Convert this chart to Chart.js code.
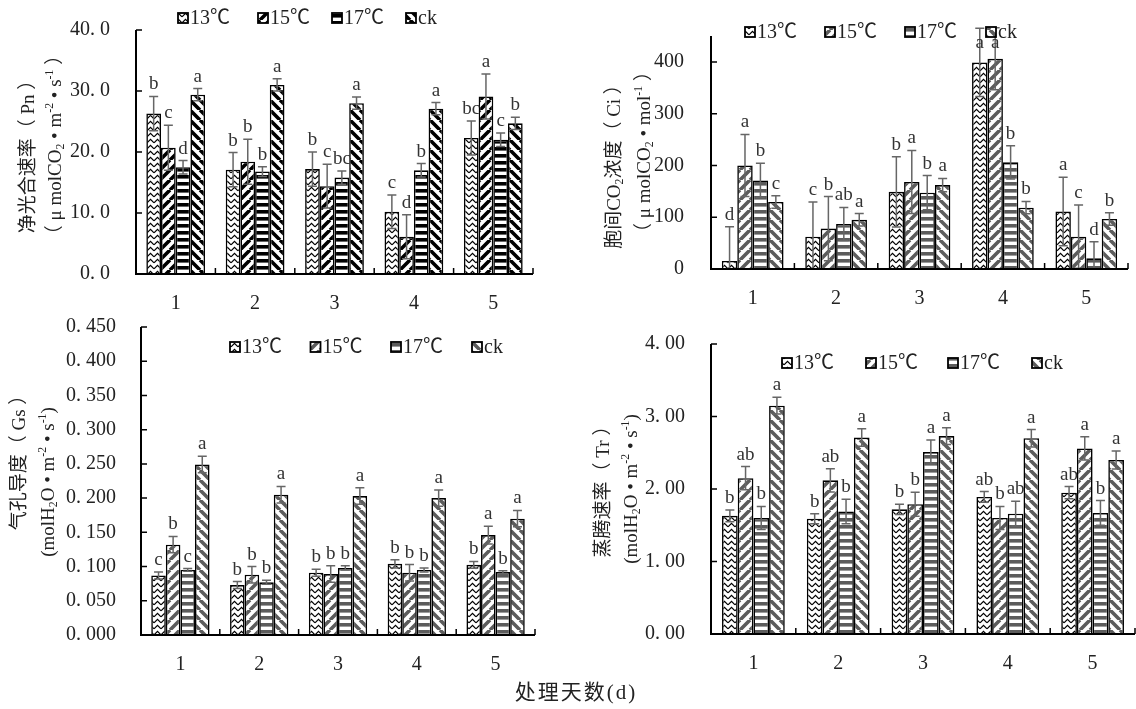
<!DOCTYPE html>
<html><head><meta charset="utf-8">
<script src="https://cdn.jsdelivr.net/npm/chart.js@4.4.1/dist/chart.umd.min.js"></script>
<style>
html,body{margin:0;padding:0;background:#fff;}
#wrap{position:relative;width:1136px;height:709px;overflow:hidden;background:#fff;}
canvas{position:absolute;left:0;top:0;}
</style></head><body>
<div id="wrap">
<canvas id="c1" width="1136" height="709"></canvas>
<canvas id="c2" width="1136" height="709"></canvas>
<canvas id="c3" width="1136" height="709"></canvas>
<canvas id="c4" width="1136" height="709"></canvas>
</div>
<script>
// ---------- data ----------
const days = ['1','2','3','4','5'];
const seriesNames = ['13℃','15℃','17℃','ck'];

// Pn
const pn13 = [26.3, 17.1, 17.2, 10.2, 22.3];
const pn15 = [20.7, 18.4, 14.4, 6.1, 29.1];
const pn17 = [17.5, 16.8, 15.8, 17.0, 22.0];
const pnCk = [29.4, 31.0, 28.0, 27.1, 24.7];
const pnErr13 = [2.8, 2.8, 2.8, 2.75, 2.8];
const pnErr15 = [3.7, 3.7, 3.6, 3.6, 3.7];
const pnErr17 = [1.1, 0.8, 1.1, 1.1, 1.1];
const pnErrCk = [1.0, 1.0, 1.0, 1.0, 1.0];
const pnLet13 = ['b','b','b','c','bc'];
const pnLet15 = ['c','b','c','d','a'];
const pnLet17 = ['d','b','bc','b','c'];
const pnLetCk = ['a','a','a','a','b'];
const pnTicks = [0, 10, 20, 30, 40];

// Ci
const ci13 = [15.5, 62.5, 149, 399, 111];
const ci15 = [200, 78, 168, 406, 62.5];
const ci17 = [171, 87, 147.5, 206, 20.7];
const ciCk = [129.5, 95, 162, 118.5, 96.6];
const ciErr13 = [66, 67, 68, 66, 66];
const ciErr15 = [60, 62, 61, 60, 61];
const ciErr17 = [33, 32, 33, 32, 32];
const ciErrCk = [12, 12, 13, 12, 12];
const ciLet13 = ['d','c','b','a','a'];
const ciLet15 = ['a','b','a','a','c'];
const ciLet17 = ['b','ab','b','b','d'];
const ciLetCk = ['c','a','a','b','b'];
const ciTicks = [0, 100, 200, 300, 400];

// Gs
const gs13 = [0.087, 0.073, 0.091, 0.104, 0.1025];
const gs15 = [0.132, 0.088, 0.089, 0.091, 0.146];
const gs17 = [0.095, 0.077, 0.098, 0.095, 0.092];
const gsCk = [0.249, 0.205, 0.203, 0.200, 0.170];
const gsErr13 = [0.005, 0.005, 0.005, 0.006, 0.005];
const gsErr15 = [0.012, 0.012, 0.012, 0.012, 0.013];
const gsErr17 = [0.002, 0.003, 0.003, 0.003, 0.002];
const gsErrCk = [0.012, 0.012, 0.012, 0.012, 0.012];
const gsLet13 = ['c','b','b','b','b'];
const gsLet15 = ['b','b','b','b','a'];
const gsLet17 = ['c','b','b','b','b'];
const gsLetCk = ['a','a','a','a','a'];
const gsTicks = [0, 0.05, 0.1, 0.15, 0.2, 0.25, 0.3, 0.35, 0.4, 0.45];

// Tr
const tr13 = [1.63, 1.59, 1.72, 1.89, 1.95];
const tr15 = [2.15, 2.12, 1.79, 1.60, 2.56];
const tr17 = [1.60, 1.69, 2.51, 1.66, 1.67];
const trCk = [3.15, 2.71, 2.73, 2.70, 2.40];
const trErr13 = [0.08, 0.07, 0.07, 0.074, 0.083];
const trErr15 = [0.16, 0.16, 0.165, 0.16, 0.16];
const trErr17 = [0.16, 0.17, 0.166, 0.17, 0.17];
const trErrCk = [0.115, 0.12, 0.115, 0.12, 0.124];
const trLet13 = ['b','b','b','ab','ab'];
const trLet15 = ['ab','ab','b','b','a'];
const trLet17 = ['b','b','a','ab','b'];
const trLetCk = ['a','a','a','a','a'];
const trTicks = [0, 1, 2, 3, 4];

const xTitle = '处理天数(d)';

// ---------- layout / style ----------
const FONT = '"Liberation Serif","Noto Sans CJK SC",serif';
const W = 1136, H = 709;
const kinds = ['zig','up','hor','down'];

const panels = [
  {id:'c1', data:[pn13,pn15,pn17,pnCk], err:[pnErr13,pnErr15,pnErr17,pnErrCk], lets:[pnLet13,pnLet15,pnLet17,pnLetCk],
   min:0, max:40, ticks:pnTicks, dec:1, area:{l:136,r:533,t:17,b:274}, col:'#000', tpad:18,
   leg:{x:178,y:18,dx:[0,80,154,228]},
   titles:[{t:'净光合速率（ Pn ）',x:27,y:152},{t:'（ μ molCO_{2} • m^{-2} • s^{-1} ）',x:54,y:145}]},
  {id:'c2', data:[ci13,ci15,ci17,ciCk], err:[ciErr13,ciErr15,ciErr17,ciErrCk], lets:[ciLet13,ciLet15,ciLet17,ciLetCk],
   min:0, max:450, ticks:ciTicks, dec:0, area:{l:711,r:1128,t:36,b:269}, col:'#5c5c5c', tpad:19,
   leg:{x:745,y:32,dx:[0,80,160,241]},
   titles:[{t:'胞间CO_{2}浓度（ Ci ）',x:613,y:162},{t:'（ μ molCO_{2} • mol^{-1} ）',x:643,y:152}]},
  {id:'c3', data:[gs13,gs15,gs17,gsCk], err:[gsErr13,gsErr15,gsErr17,gsErrCk], lets:[gsLet13,gsLet15,gsLet17,gsLetCk],
   min:0, max:0.45, ticks:gsTicks, dec:3, area:{l:141,r:535,t:327,b:635}, col:'#5c5c5c', tpad:17,
   leg:{x:230,y:347,dx:[0,80.5,161,242]},
   titles:[{t:'气孔导度（ Gs ）',x:18,y:458},{t:'(molH_{2}O • m^{-2} • s^{-1})',x:47,y:482}]},
  {id:'c4', data:[tr13,tr15,tr17,trCk], err:[trErr13,trErr15,trErr17,trErrCk], lets:[trLet13,trLet15,trLet17,trLetCk],
   min:0, max:4, ticks:trTicks, dec:2, area:{l:711,r:1135,t:344,b:634}, col:'#5c5c5c', tpad:18,
   leg:{x:782,y:363,dx:[0,84,166,250]},
   titles:[{t:'蒸腾速率（ Tr ）',x:602,y:487},{t:'(molH_{2}O • m^{-2} • s^{-1})',x:630,y:489}],
   xTitle:true}
];

function makePattern(ctx, kind, color){
  const c = document.createElement('canvas');
  let w, h;
  if (kind === 'zig') { w = 7; h = 6; }
  else if (kind === 'hor') { w = 4; h = 7; }
  else { w = 10; h = 10; }
  c.width = w; c.height = h;
  const g = c.getContext('2d');
  g.fillStyle = '#fff'; g.fillRect(0,0,w,h);
  g.strokeStyle = color; g.fillStyle = color;
  if (kind === 'zig') {
    g.lineWidth = 1.3; g.beginPath();
    g.moveTo(0,4.8); g.lineTo(3.5,1.4); g.lineTo(7,4.8); g.stroke();
  } else if (kind === 'hor') {
    g.fillRect(0,0,w,3.6);
  } else {
    g.lineWidth = 3.6; g.beginPath();
    for (const k of [-w,0,w]) {
      if (kind === 'up') { g.moveTo(k,h); g.lineTo(k+w,0); }
      else { g.moveTo(k,0); g.lineTo(k+w,h); }
    }
    g.stroke();
  }
  return ctx.createPattern(c,'repeat');
}

function parseRich(s){
  const out = []; const re = /(_\{[^}]*\}|\^\{[^}]*\})/g;
  let last = 0, m;
  while ((m = re.exec(s))) {
    if (m.index > last) out.push({k:'n', t:s.slice(last,m.index)});
    out.push({k: m[0][0]==='_' ? 'sub' : 'sup', t: m[0].slice(2,-1)});
    last = m.index + m[0].length;
  }
  if (last < s.length) out.push({k:'n', t:s.slice(last)});
  return out;
}

function drawRich(ctx, str, cx, cy, size, rot){
  const segs = parseRich(str);
  ctx.save(); ctx.translate(cx,cy); ctx.rotate(rot);
  let total = 0; const ws = [];
  for (const s of segs) {
    const fs = s.k === 'n' ? size : size*0.62;
    ctx.font = fs + 'px ' + FONT;
    const w = ctx.measureText(s.t).width; ws.push(w); total += w;
  }
  let x = -total/2;
  ctx.textAlign = 'left'; ctx.textBaseline = 'alphabetic'; ctx.fillStyle = '#222';
  segs.forEach((s,i) => {
    const fs = s.k === 'n' ? size : size*0.62;
    ctx.font = fs + 'px ' + FONT;
    const base = size*0.36;
    const dy = s.k === 'sub' ? base + size*0.18 : s.k === 'sup' ? base - size*0.42 : base;
    ctx.fillText(s.t, x, dy); x += ws[i];
  });
  ctx.restore();
}

const decorPlugin = {
  id: 'decor',
  afterDatasetsDraw(chart) {
    const p = chart.options.plugins.decor.panel;
    const ctx = chart.ctx;
    const xs = chart.scales.x, ys = chart.scales.y;
    const a = chart.chartArea;
    ctx.save();
    // error bars + letters
    chart.data.datasets.forEach((ds, i) => {
      const meta = chart.getDatasetMeta(i);
      meta.data.forEach((el, j) => {
        const v = ds.data[j], e = p.err[i][j];
        const yT = ys.getPixelForValue(v + e), yB = ys.getPixelForValue(Math.max(0, v - e));
        ctx.strokeStyle = '#666'; ctx.lineWidth = 1.5;
        ctx.beginPath();
        ctx.moveTo(el.x, yT); ctx.lineTo(el.x, yB);
        ctx.moveTo(el.x - 4.5, yT); ctx.lineTo(el.x + 4.5, yT);
        ctx.moveTo(el.x - 4.5, yB); ctx.lineTo(el.x + 4.5, yB);
        ctx.stroke();
        ctx.fillStyle = '#333'; ctx.font = '19px ' + FONT;
        ctx.textAlign = 'center'; ctx.textBaseline = 'alphabetic';
        ctx.fillText(p.lets[i][j], el.x, Math.max(yT - 7, a.top + 12));
      });
    });
    // axes
    ctx.strokeStyle = '#000'; ctx.lineWidth = 2;
    ctx.beginPath();
    ctx.moveTo(a.left, a.top); ctx.lineTo(a.left, a.bottom + 1);
    ctx.moveTo(a.left - 1, a.bottom); ctx.lineTo(a.right, a.bottom);
    ctx.stroke();
    ctx.lineWidth = 1.5; ctx.beginPath();
    p.ticks.forEach(t => { const y = ys.getPixelForValue(t); ctx.moveTo(a.left, y); ctx.lineTo(a.left + 6, y); });
    for (let k = 0; k < days.length; k++) {
      const x = xs.getPixelForValue(k + 0.5);
      ctx.moveTo(x, a.bottom); ctx.lineTo(x, a.bottom - 6);
    }
    ctx.stroke();
    // legend
    ctx.font = '20px ' + FONT; ctx.textAlign = 'left'; ctx.textBaseline = 'middle';
    chart.data.datasets.forEach((ds, i) => {
      const bx = p.leg.x + p.leg.dx[i], by = p.leg.y;
      ctx.fillStyle = ds.backgroundColor; ctx.fillRect(bx, by - 5, 10, 10);
      ctx.strokeStyle = '#000'; ctx.lineWidth = 1.8; ctx.strokeRect(bx, by - 5, 10, 10);
      ctx.fillStyle = '#222'; ctx.fillText(ds.label, bx + 12, by + 1);
    });
    // titles
    p.titles.forEach(t => drawRich(ctx, t.t, t.x, t.y, 19, -Math.PI/2));
    if (p.xTitle) {
      ctx.font = '21px ' + FONT; ctx.textAlign = 'center'; ctx.textBaseline = 'middle';
      ctx.fillStyle = '#222';
      try { ctx.letterSpacing = '2px'; } catch(e) {}
      ctx.fillText(xTitle, 576, 693);
    }
    ctx.restore();
  }
};

panels.forEach(p => {
  const cv = document.getElementById(p.id);
  const ctx = cv.getContext('2d');
  const datasets = p.data.map((arr, i) => ({
    label: seriesNames[i],
    data: arr,
    backgroundColor: makePattern(ctx, kinds[i], i === 0 ? '#000' : p.col),
    borderColor: '#000',
    borderWidth: 1.6,
    categoryPercentage: 0.74,
    barPercentage: 1.0
  }));
  const xH = 40;
  new Chart(ctx, {
    type: 'bar',
    data: { labels: days, datasets },
    options: {
      responsive: false, animation: false, devicePixelRatio: 1,
      layout: { padding: { left: 0, top: p.area.t, right: W - p.area.r, bottom: H - p.area.b - xH } },
      plugins: { legend: { display: false }, tooltip: { enabled: false }, decor: { panel: p } },
      scales: {
        x: {
          grid: { display: false }, border: { display: false },
          ticks: { color: '#222', font: { family: FONT, size: 20 }, padding: 10 },
          afterFit: s => { s.height = xH; }
        },
        y: {
          min: p.min, max: p.max,
          grid: { display: false }, border: { display: false },
          afterBuildTicks: s => { s.ticks = p.ticks.map(v => ({ value: v })); },
          ticks: {
            color: '#222', font: { family: FONT, size: 20 }, padding: p.tpad,
            callback: v => Number(v).toFixed(p.dec).replace('.', '. ')
          },
          afterFit: s => { s.width = p.area.l; }
        }
      }
    },
    plugins: [decorPlugin]
  });
});
</script>
</body></html>
